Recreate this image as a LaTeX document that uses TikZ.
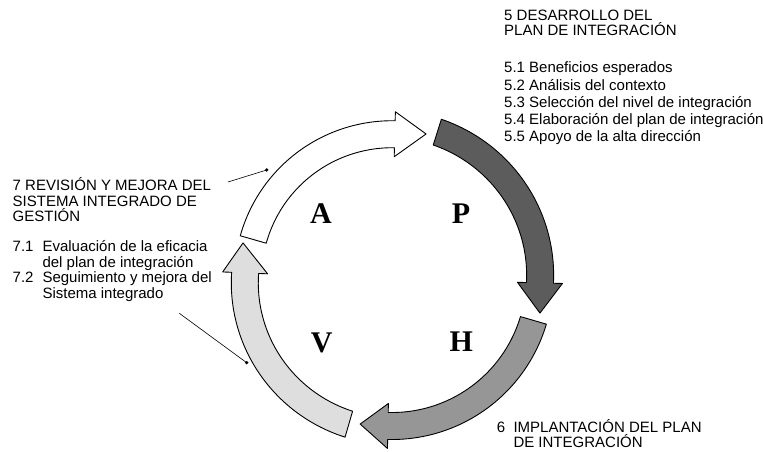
\documentclass[tikz,border=0pt]{standalone}
\usepackage{fontspec}
\setmainfont{Liberation Sans}
\newfontfamily\letterfont{Liberation Serif}
\definecolor{pdark}{RGB}{92,92,92}
\definecolor{hgray}{RGB}{150,150,150}
\definecolor{vlight}{RGB}{222,222,222}
\newcommand\hw{13.5}
\newcommand\hh{22.5}
% #1 fill, #2 tail angle, #3 tail radius, #4 base angle, #5 base radius, #6 tip angle, #7 tip radius
\newcommand\cycarrow[7]{%
  \draw[arrowline, fill=#1]
    plot[domain=#2:#4, samples=50] ({\x}:{#3+(#5-#3)*(\x-(#2))/((#4)-(#2))+\hw})
    -- (#4:{#5+\hh}) -- (#6:#7) -- (#4:{#5-\hh})
    -- plot[domain=#4:#2, samples=50] ({\x}:{#3+(#5-#3)*(\x-(#2))/((#4)-(#2))-\hw})
    -- cycle;}
\begin{document}
\begin{tikzpicture}[x=1pt,y=1pt,
  txt/.style={anchor=base west, inner sep=0pt, font=\fontsize{15}{18}\selectfont},
  big/.style={anchor=base, inner sep=0pt, font=\letterfont\bfseries\fontsize{30}{36}\selectfont},
  arrowline/.style={draw=black, line width=0.9pt, line join=round},
  leader/.style={draw=black, line width=0.6pt},
  dotmark/.style={circle, fill=black, inner sep=0pt, minimum size=3.6pt}]
\useasboundingbox (0,0) rectangle (763,452);

% cycle arrows
\begin{scope}[shift={(391,173)}]
  \cycarrow{white}{164}{143.3}{88.5}{144.8}{76.4}{149.2}
  \cycarrow{pdark}{72.5}{154}{-1.5}{149}{-12.9}{152.8}
  \cycarrow{hgray}{-16.2}{148.3}{-91.2}{147}{-102}{148.3}
  \cycarrow{vlight}{-106.2}{151.2}{-182.4}{146}{-193.7}{152.3}
\end{scope}

% PHVA letters
\node[big] (lA) at (321,228.5) {A};
\node[big] (lP) at (461,228) {P};
\node[big] (lV) at (321.7,99) {V};
\node[big] (lH) at (461.3,100) {H};

% block 5
\node[txt] (t5a) at (504,431.5) {5 DESARROLLO DEL};
\node[txt] (t5b) at (504,416) {PLAN DE INTEGRACIÓN};
\node[txt] (t51) at (504,379) {5.1 Beneficios esperados};
\node[txt] (t52) at (504,361.9) {5.2 Análisis del contexto};
\node[txt] (t53) at (504,344.8) {5.3 Selección del nivel de integración};
\node[txt] (t54) at (504,327.6) {5.4 Elaboración del plan de integración};
\node[txt] (t55) at (504,310.5) {5.5 Apoyo de la alta dirección};

% block 6
\node[txt] (t6n) at (496.7,19.7) {6};
\node[txt] (t6a) at (513.3,19.7) {IMPLANTACIÓN DEL PLAN};
\node[txt] (t6b) at (513.3,4.7) {DE INTEGRACIÓN};

% block 7
\node[txt] (t7a) at (12.5,261) {7 REVISIÓN Y MEJORA DEL};
\node[txt] (t7b) at (12.5,245.5) {SISTEMA INTEGRADO DE};
\node[txt] (t7c) at (12.5,230) {GESTIÓN};
\node[txt] (t71n) at (12.5,200) {7.1};
\node[txt] (t71a) at (42.3,200) {Evaluación de la eficacia};
\node[txt] (t71b) at (42.3,184.5) {del plan de integración};
\node[txt] (t72n) at (12.5,169) {7.2};
\node[txt] (t72a) at (42.3,169) {Seguimiento y mejora del};
\node[txt] (t72b) at (42.3,153.5) {Sistema integrado};

% leader lines
\coordinate (l1s) at (228,270);
\node[dotmark] (d1) at (266.7,282) {};
\draw[leader] (l1s) -- (d1.center);
\coordinate (l2s) at (179.3,138.7);
\node[dotmark] (d2) at (246.7,89.3) {};
\draw[leader] (l2s) -- (d2.center);
\end{tikzpicture}
\end{document}
